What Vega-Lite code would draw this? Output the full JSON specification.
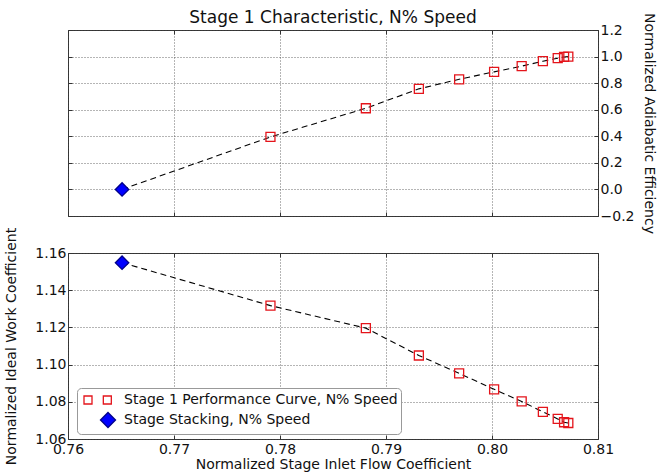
{
  "$schema": "https://vega.github.io/schema/vega-lite/v6.json",
  "background": "white",
  "padding": {"left": 4, "top": 8, "right": 0, "bottom": 0},
  "spacing": 37,
  "bounds": "flush",
  "config": {
    "font": "DejaVu Sans",
    "view": {"stroke": "#333", "strokeWidth": 1},
    "axis": {
      "labelFont": "DejaVu Sans", "labelFontSize": 14, "labelColor": "#111",
      "titleFont": "DejaVu Sans", "titleFontSize": 14, "titleFontWeight": "normal", "titleColor": "#111",
      "grid": true, "gridColor": "#444", "gridDash": [1, 2], "gridWidth": 0.8,
      "domain": false, "ticks": true, "tickColor": "#333", "tickSize": -4,
      "labelPadding": 6, "labelFlush": false, "labelOverlap": false, "labelBound": false
    },
    "title": {"font": "DejaVu Sans", "fontSize": 17, "fontWeight": "normal", "color": "#111"}
  },
  "datasets": {
    "stage": [
      {"flow": 0.7651, "eff": 0.000, "work": 1.1548, "series": "Stage Stacking, N% Speed"},
      {"flow": 0.7791, "eff": 0.395, "work": 1.1317, "series": "Stage 1 Performance Curve, N% Speed"},
      {"flow": 0.7881, "eff": 0.611, "work": 1.1196, "series": "Stage 1 Performance Curve, N% Speed"},
      {"flow": 0.7931, "eff": 0.757, "work": 1.1049, "series": "Stage 1 Performance Curve, N% Speed"},
      {"flow": 0.7969, "eff": 0.829, "work": 1.0953, "series": "Stage 1 Performance Curve, N% Speed"},
      {"flow": 0.8002, "eff": 0.885, "work": 1.0867, "series": "Stage 1 Performance Curve, N% Speed"},
      {"flow": 0.8028, "eff": 0.928, "work": 1.0802, "series": "Stage 1 Performance Curve, N% Speed"},
      {"flow": 0.8048, "eff": 0.965, "work": 1.0746, "series": "Stage 1 Performance Curve, N% Speed"},
      {"flow": 0.8062, "eff": 0.988, "work": 1.0708, "series": "Stage 1 Performance Curve, N% Speed"},
      {"flow": 0.8068, "eff": 0.997, "work": 1.0690, "series": "Stage 1 Performance Curve, N% Speed"},
      {"flow": 0.8072, "eff": 1.000, "work": 1.0686, "series": "Stage 1 Performance Curve, N% Speed"}
    ]
  },
  "resolve": {
    "scale": {"shape": "independent", "stroke": "independent", "fill": "independent"},
    "legend": {"shape": "independent", "stroke": "independent", "fill": "independent"}
  },
  "vconcat": [
    {
      "width": 530,
      "height": 186,
      "title": {"text": "Stage 1 Characteristic, N% Speed", "offset": -14, "frame": "group"},
      "data": {"name": "stage"},
      "resolve": {"axis": {"x": "independent", "y": "independent"}},
      "layer": [
        {
          "mark": {"type": "line", "color": "#000", "strokeWidth": 1.1, "strokeDash": [6, 4]},
          "encoding": {
            "x": {
              "field": "flow", "type": "quantitative",
              "scale": {"domain": [0.76, 0.81], "nice": false, "zero": false},
              "axis": {"orient": "bottom", "labels": false, "title": null, "values": [0.76, 0.77, 0.78, 0.79, 0.8, 0.81]}
            },
            "y": {
              "field": "eff", "type": "quantitative",
              "scale": {"domain": [-0.2, 1.2], "nice": false, "zero": false},
              "axis": {
                "orient": "right", "format": ".1f", "titlePadding": 8,
                "values": [-0.2, 0, 0.2, 0.4, 0.6, 0.8, 1.0, 1.2],
                "title": "Normalized Adiabatic Efficiency"
              }
            }
          }
        },
        {
          "mark": {"type": "point", "strokeWidth": 1.3, "opacity": 1},
          "encoding": {
            "x": {"field": "flow", "type": "quantitative", "axis": null},
            "y": {"field": "eff", "type": "quantitative", "axis": null},
            "shape": {"condition": {"test": "datum.series === 'Stage Stacking, N% Speed'", "value": "diamond"}, "value": "square"},
            "stroke": {"condition": {"test": "datum.series === 'Stage Stacking, N% Speed'", "value": "#00008a"}, "value": "#e4141b"},
            "fill": {"condition": {"test": "datum.series === 'Stage Stacking, N% Speed'", "value": "#0000ff"}, "value": "transparent"},
            "size": {"condition": {"test": "datum.series === 'Stage Stacking, N% Speed'", "value": 180}, "value": 81}
          }
        },
        {
          "transform": [{"filter": "false"}],
          "mark": {"type": "point"},
          "encoding": {
            "x": {
              "field": "flow", "type": "quantitative",
              "axis": {"orient": "top", "labels": false, "grid": false, "title": null, "values": [0.76, 0.77, 0.78, 0.79, 0.8, 0.81]}
            },
            "y": {
              "field": "eff", "type": "quantitative",
              "axis": {"orient": "left", "labels": false, "grid": false, "title": null, "values": [-0.2, 0, 0.2, 0.4, 0.6, 0.8, 1.0, 1.2]}
            }
          }
        }
      ]
    },
    {
      "width": 530,
      "height": 186,
      "data": {"name": "stage"},
      "resolve": {"axis": {"x": "independent", "y": "independent"}},
      "layer": [
        {
          "mark": {"type": "line", "color": "#000", "strokeWidth": 1.1, "strokeDash": [6, 4]},
          "encoding": {
            "x": {
              "field": "flow", "type": "quantitative",
              "scale": {"domain": [0.76, 0.81], "nice": false, "zero": false},
              "axis": {
                "orient": "bottom", "format": ".2f", "titlePadding": 1, "labelPadding": 7,
                "values": [0.76, 0.77, 0.78, 0.79, 0.8, 0.81],
                "title": "Normalized Stage Inlet Flow Coefficient"
              }
            },
            "y": {
              "field": "work", "type": "quantitative",
              "scale": {"domain": [1.06, 1.16], "nice": false, "zero": false},
              "axis": {
                "orient": "left", "format": ".2f", "titlePadding": 16,
                "values": [1.06, 1.08, 1.1, 1.12, 1.14, 1.16],
                "title": "Normalized Ideal Work Coefficient"
              }
            }
          }
        },
        {
          "mark": {"type": "point", "strokeWidth": 1.3, "opacity": 1},
          "encoding": {
            "x": {"field": "flow", "type": "quantitative", "axis": null},
            "y": {"field": "work", "type": "quantitative", "axis": null},
            "shape": {"condition": {"test": "datum.series === 'Stage Stacking, N% Speed'", "value": "diamond"}, "value": "square"},
            "stroke": {"condition": {"test": "datum.series === 'Stage Stacking, N% Speed'", "value": "#00008a"}, "value": "#e4141b"},
            "fill": {"condition": {"test": "datum.series === 'Stage Stacking, N% Speed'", "value": "#0000ff"}, "value": "transparent"},
            "size": {"condition": {"test": "datum.series === 'Stage Stacking, N% Speed'", "value": 180}, "value": 81}
          }
        },
        {
          "transform": [{"filter": "false"}],
          "mark": {"type": "point", "strokeWidth": 1.3, "opacity": 1},
          "encoding": {
            "x": {
              "field": "flow", "type": "quantitative",
              "axis": {"orient": "top", "labels": false, "grid": false, "title": null, "values": [0.76, 0.77, 0.78, 0.79, 0.8, 0.81]}
            },
            "y": {
              "field": "work", "type": "quantitative",
              "axis": {"orient": "right", "labels": false, "grid": false, "title": null, "values": [1.06, 1.08, 1.1, 1.12, 1.14, 1.16]}
            },
            "shape": {
              "field": "series", "type": "nominal",
              "scale": {
                "domain": ["Stage 1 Performance Curve, N% Speed", "Stage Stacking, N% Speed"],
                "range": ["M-0.625,-0.5H0.375V0.5H-0.625Z M1.79,-0.5H2.79V0.5H1.79Z", "M2.375,-0.94L3.315,0L2.375,0.94L1.435,0Z"]
              },
              "legend": {
                "title": null, "orient": "none", "legendX": 9, "legendY": 135,
                "fillColor": "white", "strokeColor": "#999", "cornerRadius": 4, "padding": 3,
                "rowPadding": 2, "labelOffset": 26, "labelFont": "DejaVu Sans", "labelFontSize": 14,
                "labelColor": "#111", "labelLimit": 400, "symbolSize": 256, "symbolStrokeWidth": 1.3,
                "symbolOpacity": 1
              }
            },
            "stroke": {
              "field": "series", "type": "nominal",
              "scale": {"domain": ["Stage 1 Performance Curve, N% Speed", "Stage Stacking, N% Speed"], "range": ["#e4141b", "#00008a"]},
              "legend": {
                "title": null, "orient": "none", "legendX": 9, "legendY": 135,
                "fillColor": "white", "strokeColor": "#999", "cornerRadius": 4, "padding": 3,
                "rowPadding": 2, "labelOffset": 26, "labelFont": "DejaVu Sans", "labelFontSize": 14,
                "labelColor": "#111", "labelLimit": 400, "symbolSize": 256, "symbolStrokeWidth": 1.3,
                "symbolOpacity": 1
              }
            },
            "fill": {
              "field": "series", "type": "nominal",
              "scale": {"domain": ["Stage 1 Performance Curve, N% Speed", "Stage Stacking, N% Speed"], "range": ["transparent", "#0000ff"]},
              "legend": {
                "title": null, "orient": "none", "legendX": 9, "legendY": 135,
                "fillColor": "white", "strokeColor": "#999", "cornerRadius": 4, "padding": 3,
                "rowPadding": 2, "labelOffset": 26, "labelFont": "DejaVu Sans", "labelFontSize": 14,
                "labelColor": "#111", "labelLimit": 400, "symbolSize": 256, "symbolStrokeWidth": 1.3,
                "symbolOpacity": 1
              }
            }
          }
        }
      ]
    }
  ]
}
